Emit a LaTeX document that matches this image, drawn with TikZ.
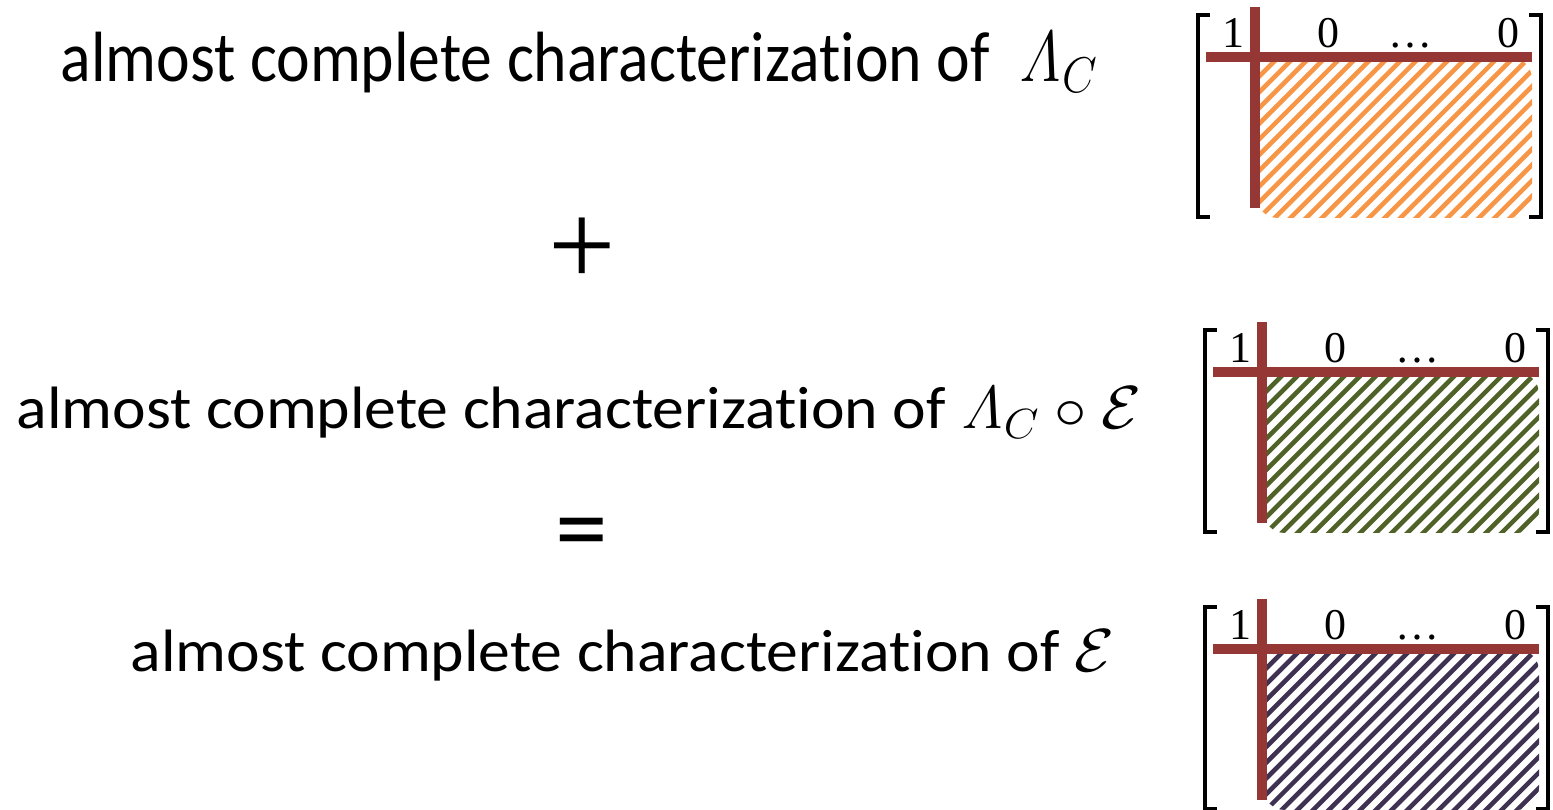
\documentclass[tikz,border=0pt]{standalone}
\usepackage[no-math]{fontspec}
\setmainfont{Carlito}[Ligatures=NoCommon]
\newfontfamily\entryfont{Liberation Serif}

\definecolor{crossred}{RGB}{149,55,53}
\definecolor{hatchorange}{RGB}{247,150,70}
\definecolor{hatchgreen}{RGB}{79,98,40}
\definecolor{hatchpurple}{RGB}{63,49,81}

\tikzset{
  caption/.style={anchor=base west, inner sep=0pt, font=\fontsize{17}{20}\selectfont},
  opsign/.style={inner sep=0pt},
  crossbar/.style={crossred, line width=3.1pt},
  brk/.style={black, line width=0.9pt},
  entry/.style={anchor=base, inner sep=0pt, font=\entryfont\fontsize{12.5}{14}\selectfont},
}

% text is a little wider than Carlito sets it
\newcommand{\wide}[1]{\scalebox{1.065}[1]{#1}}

% one matrix: #1,#2 = crossing point of the red bars, #3 = hatch colour, #4 = name
\newcommand{\charmat}[4]{%
  \begin{scope}[shift={(#1,#2)}]
    % hatched block with round corners
    \begin{scope}
      \clip (23,0) -- (255,0) .. controls (267.2,0) and (277,9.8) .. (277,22)
        -- (277,139) .. controls (277,151.2) and (267.2,161) .. (255,161)
        -- (23,161) .. controls (10.8,161) and (1,151.2) .. (1,139)
        -- (1,22) .. controls (1,9.8) and (10.8,0) .. (23,0) -- cycle;
      \foreach \k in {-11,...,18}
        \draw[#3, line width=1.3pt] (\k*15.7,165) -- ++(170,-170);
    \end{scope}
    % red cross
    \draw[crossbar] (-49,0) -- (277,0);
    \draw[crossbar] (0,-50) -- (0,151);
    % brackets
    \draw[brk] (-45,-42) -- (-57,-42) -- (-57,160) -- (-45,160);
    \draw[brk] (274,-42) -- (286,-42) -- (286,160) -- (274,160);
    % first row
    \node[entry] (#4-one) at (-22,-9) {1};
    \node[entry] (#4-zero) at (73,-9) {0};
    \node[entry] (#4-dots) at (155,-9) {…};
    \node[entry] (#4-last) at (253,-9) {0};
  \end{scope}}

\begin{document}
\begin{tikzpicture}[x=0.01cm, y=-0.01cm]
    \useasboundingbox (0,0) rectangle (1553,810);

    % Texts on the left
    \node[caption] (lamC) at (60,82) {\scalebox{1.065}[1.19]{almost complete characterization of \ $\mathit{\Lambda}_C$}};
    \node[opsign, font=\entryfont\fontsize{34}{40}\selectfont] (plus) at (582,252) {+};
    \node[caption] (lamCE) at (16,429) {\wide{almost complete characterization of $\mathit{\Lambda}_C \circ \mathcal{E}$}};
    \node[opsign, font=\fontsize{30}{36}\selectfont] (equal) at (582,541) {=};
    \node[caption] (chanE) at (130,672) {\wide{almost complete characterization of $\mathcal{E}$}};

    % Matrices on the right
    \charmat{1255}{57}{hatchorange}{mA}
    \charmat{1262}{372}{hatchgreen}{mB}
    \charmat{1262}{649}{hatchpurple}{mC}

\end{tikzpicture}
\end{document}
